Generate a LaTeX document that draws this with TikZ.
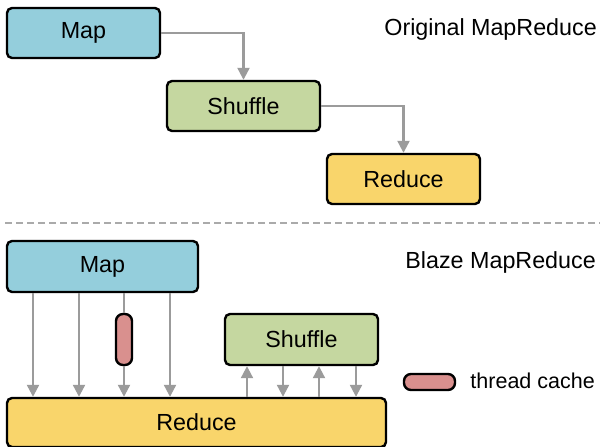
\documentclass[tikz,border=0pt]{standalone}
\usepackage{fontspec}
\setmainfont{Liberation Sans}
\usetikzlibrary{arrows.meta,calc}
\definecolor{mapc}{HTML}{94CEDC}
\definecolor{shufc}{HTML}{C5D7A0}
\definecolor{redc}{HTML}{F9D56B}
\definecolor{cachec}{HTML}{D9908E}
\definecolor{arrc}{HTML}{9B9B9B}
\definecolor{dashc}{HTML}{AAAAAA}
\tikzset{
  box/.style={draw=black, line width=2.4pt, rounded corners=5pt, inner sep=0pt, font=\fontsize{23.3}{27}\selectfont},
  pill/.style={draw=black, line width=2.4pt, rounded corners=7pt, fill=cachec, inner sep=0pt},
  arr/.style={draw=arrc, line width=2.2pt, -{Triangle[width=12pt,length=12pt]}},
  plain/.style={draw=arrc, line width=2.2pt},
  lbl/.style={font=\fontsize{23.3}{27}\selectfont, inner sep=0pt}
}
\begin{document}
\begin{tikzpicture}[x=1pt,y=-1pt]
\useasboundingbox (0,0) rectangle (600,447);
% top section
\node[box, fill=mapc, minimum width=153pt, minimum height=50pt] (map1) at (83.5,33) {Map};
\node[box, fill=shufc, minimum width=153pt, minimum height=50pt] (shuf1) at (243.5,106) {Shuffle};
\node[box, fill=redc, minimum width=153pt, minimum height=50pt] (red1) at (403.5,179) {Reduce};
\draw[arr] (map1.east) -| (shuf1.north);
\draw[arr] (shuf1.east) -| (red1.north);
\node[lbl, anchor=base east] (t1) at (597,35) {Original MapReduce};
% separator
\coordinate (d1) at (5,223);
\coordinate (d2) at (600,223);
\draw[dashc, line width=2pt, dash pattern=on 7pt off 4pt] (d1) -- (d2);
% bottom section
\node[box, fill=mapc, minimum width=191pt, minimum height=51pt] (map2) at (102.5,266.5) {Map};
\node[box, fill=redc, minimum width=379pt, minimum height=49pt] (red2) at (196.5,422.5) {Reduce};
\node[box, fill=shufc, minimum width=153pt, minimum height=51pt] (shuf2) at (301.5,339.5) {Shuffle};
\node[pill, minimum width=16pt, minimum height=51pt] (cache) at (124,339.5) {};
\node[lbl, anchor=base east] (t2) at (596,268) {Blaze MapReduce};
\node[pill, minimum width=51pt, minimum height=16pt] (leg) at (429.5,382) {};
\node[lbl, anchor=base east, font=\fontsize{21.5}{25}\selectfont] (t3) at (595,388) {thread cache};
% map -> reduce arrows
\coordinate (a1) at (33,0);
\coordinate (a2) at (79,0);
\coordinate (a4) at (170,0);
\draw[arr] (map2.south -| a1) -- (red2.north -| a1);
\draw[arr] (map2.south -| a2) -- (red2.north -| a2);
\draw[arr] (map2.south -| a4) -- (red2.north -| a4);
\draw[plain] (map2.south -| cache.north) -- (cache.north);
\draw[arr] (cache.south) -- (red2.north -| cache.south);
% reduce <-> shuffle
\coordinate (b1) at (247,0);
\coordinate (b2) at (283,0);
\coordinate (b3) at (319,0);
\coordinate (b4) at (356,0);
\draw[arr] (red2.north -| b1) -- (shuf2.south -| b1);
\draw[arr] (shuf2.south -| b2) -- (red2.north -| b2);
\draw[arr] (red2.north -| b3) -- (shuf2.south -| b3);
\draw[arr] (shuf2.south -| b4) -- (red2.north -| b4);
\end{tikzpicture}
\end{document}
